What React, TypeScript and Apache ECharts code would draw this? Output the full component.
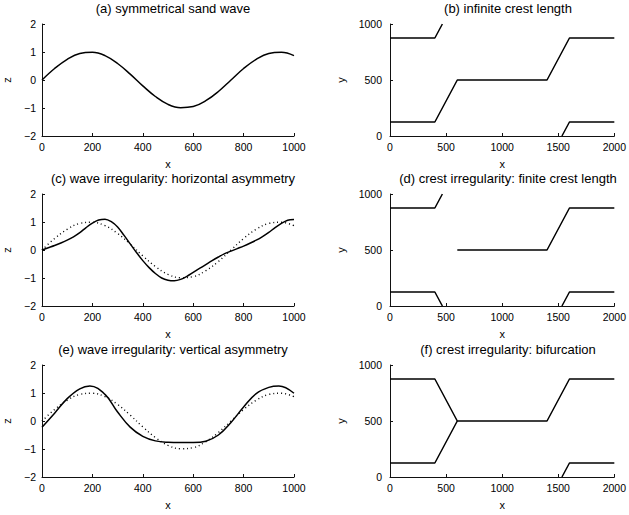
import React, { useEffect, useRef } from "react";
import * as echarts from "echarts";

// ---- data ----
// (a) symmetrical sand wave, also the dotted reference in (c) and (e)
const X_SYM = [0, 50, 100, 150, 200, 250, 300, 350, 400, 450, 500, 550, 600, 650, 700, 750, 800, 850, 900, 950, 1000];
const Z_SYM = [0, 0.41, 0.74, 0.95, 0.99, 0.87, 0.59, 0.21, -0.21, -0.59, -0.87, -0.99, -0.95, -0.74, -0.41, 0, 0.41, 0.74, 0.95, 0.99, 0.87];

// (c) horizontal asymmetry
const X_C = [0, 25, 50, 75, 100, 125, 150, 175, 200, 225, 250, 275, 300, 325, 350, 375, 400, 425, 450, 475, 500, 525, 550, 575, 600, 625, 650, 675, 700, 725, 750, 775, 800, 825, 850, 875, 900, 925, 950, 975, 1000];
const Z_C = [0, 0.08, 0.16, 0.25, 0.35, 0.47, 0.62, 0.8, 0.96, 1.07, 1.1, 1.01, 0.82, 0.53, 0.22, -0.09, -0.38, -0.63, -0.84, -1.0, -1.08, -1.1, -1.05, -0.94, -0.8, -0.66, -0.52, -0.38, -0.25, -0.13, -0.04, 0.05, 0.14, 0.24, 0.35, 0.48, 0.63, 0.8, 0.95, 1.06, 1.09];

// (e) vertical asymmetry
const X_E = [0, 50, 100, 150, 190, 250, 300, 350, 400, 450, 500, 550, 600, 650, 700, 750, 800, 850, 900, 940, 1000];
const Z_E = [-0.22, 0.28, 0.8, 1.15, 1.25, 0.95, 0.32, -0.22, -0.55, -0.71, -0.76, -0.77, -0.77, -0.72, -0.5, -0.05, 0.5, 0.98, 1.2, 1.25, 0.99];

// crest lines (plan view), x and y per line
const B1_X = [0, 400, 467];
const B1_Y = [875, 875, 1000];
const B2_X = [0, 400, 600, 1400, 1600, 2000];
const B2_Y = [125, 125, 500, 500, 875, 875];
const B3_X = [1533, 1600, 2000];
const B3_Y = [0, 125, 125];

const D1_X = [0, 400, 467];
const D1_Y = [875, 875, 1000];
const D2_X = [0, 400, 467];
const D2_Y = [125, 125, 0];
const D3_X = [600, 1400, 1600, 2000];
const D3_Y = [500, 500, 875, 875];
const D4_X = [1533, 1600, 2000];
const D4_Y = [0, 125, 125];

const F1_X = [0, 400, 600, 1400, 1600, 2000];
const F1_Y = [875, 875, 500, 500, 875, 875];
const F2_X = [0, 400, 600];
const F2_Y = [125, 125, 500];
const F3_X = [1533, 1600, 2000];
const F3_Y = [0, 125, 125];

const TITLES = [
  "(a) symmetrical sand wave",
  "(b) infinite crest length",
  "(c) wave irregularity: horizontal asymmetry",
  "(d) crest irregularity: finite crest length",
  "(e) wave irregularity: vertical asymmetry",
  "(f) crest irregularity: bifurcation",
];

const zip = (xs: number[], ys: number[]) => xs.map((x, i) => [x, ys[i]]);

const FONT = "Liberation Sans, Arial, Helvetica, sans-serif";
const INK = "#111";

export default function App() {
  const ref = useRef<HTMLDivElement>(null);
  useEffect(() => {
    if (!ref.current) return;
    const chart = echarts.init(ref.current, null, { renderer: "svg" });

    const LEFT = [42, 390];
    const WIDTH = [252, 226];
    const TOP = [24, 194, 365];
    const HEIGHT = 112;

    const grids: any[] = [];
    const xAxes: any[] = [];
    const yAxes: any[] = [];
    const titles: any[] = [];
    for (let r = 0; r < 3; r++) {
      for (let c = 0; c < 2; c++) {
        const idx = r * 2 + c;
        grids.push({ left: LEFT[c], top: TOP[r], width: WIDTH[c], height: HEIGHT });
        const axisCommon = {
          gridIndex: idx,
          type: "value",
          axisLine: { show: true, onZero: false, lineStyle: { color: INK, width: 1 } },
          axisTick: { show: true, inside: true, length: 3, lineStyle: { color: INK, width: 1 } },
          splitLine: { show: false },
          nameTextStyle: { fontFamily: FONT, fontSize: 11, color: "#000" },
          axisLabel: {
            fontFamily: FONT,
            fontSize: 10.5,
            color: "#000",
            formatter: (v: number) => String(v).replace("-", "\u2212"),
          },
        };
        xAxes.push({
          ...axisCommon,
          min: 0,
          max: c === 0 ? 1000 : 2000,
          interval: c === 0 ? 200 : 500,
          name: "x",
          nameLocation: "middle",
          nameGap: 22,
          axisLabel: { ...axisCommon.axisLabel, margin: 5 },
        });
        yAxes.push({
          ...axisCommon,
          min: c === 0 ? -2 : 0,
          max: c === 0 ? 2 : 1000,
          interval: c === 0 ? 1 : 500,
          name: c === 0 ? "z" : "y",
          nameLocation: "middle",
          nameGap: c === 0 ? 30 : 44,
          axisLabel: { ...axisCommon.axisLabel, margin: c === 0 ? 6 : 8 },
        });
        titles.push({
          text: TITLES[idx],
          left: LEFT[c] + WIDTH[c] / 2,
          top: TOP[r] - 27,
          textAlign: "center",
          textStyle: { fontFamily: FONT, fontSize: 13, fontWeight: "normal", color: "#000" },
        });
      }
    }

    const solid = (data: number[][], g: number, smooth: number) => ({
      type: "line",
      xAxisIndex: g,
      yAxisIndex: g,
      data,
      smooth: smooth > 0 ? smooth : false,
      showSymbol: false,
      symbol: "none",
      lineStyle: { color: "#000", width: 1.5 },
      silent: true,
    });
    const dotted = (data: number[][], g: number) => ({
      type: "line",
      xAxisIndex: g,
      yAxisIndex: g,
      data,
      smooth: 0.4,
      showSymbol: false,
      symbol: "none",
      lineStyle: { color: "#000", width: 1.4, type: [1, 3] },
      silent: true,
    });

    const series: any[] = [
      solid(zip(X_SYM, Z_SYM), 0, 0.4),
      solid(zip(B1_X, B1_Y), 1, 0),
      solid(zip(B2_X, B2_Y), 1, 0),
      solid(zip(B3_X, B3_Y), 1, 0),
      dotted(zip(X_SYM, Z_SYM), 2),
      solid(zip(X_C, Z_C), 2, 0.3),
      solid(zip(D1_X, D1_Y), 3, 0),
      solid(zip(D2_X, D2_Y), 3, 0),
      solid(zip(D3_X, D3_Y), 3, 0),
      solid(zip(D4_X, D4_Y), 3, 0),
      dotted(zip(X_SYM, Z_SYM), 4),
      solid(zip(X_E, Z_E), 4, 0.4),
      solid(zip(F1_X, F1_Y), 5, 0),
      solid(zip(F2_X, F2_Y), 5, 0),
      solid(zip(F3_X, F3_Y), 5, 0),
    ];

    chart.setOption({
      animation: false,
      backgroundColor: "#fff",
      title: titles,
      grid: grids,
      xAxis: xAxes,
      yAxis: yAxes,
      series,
    });
    return () => chart.dispose();
  }, []);
  return (
    <div
      ref={ref}
      style={{ position: "absolute", left: 0, top: 0, width: 629, height: 515 }}
    />
  );
}
